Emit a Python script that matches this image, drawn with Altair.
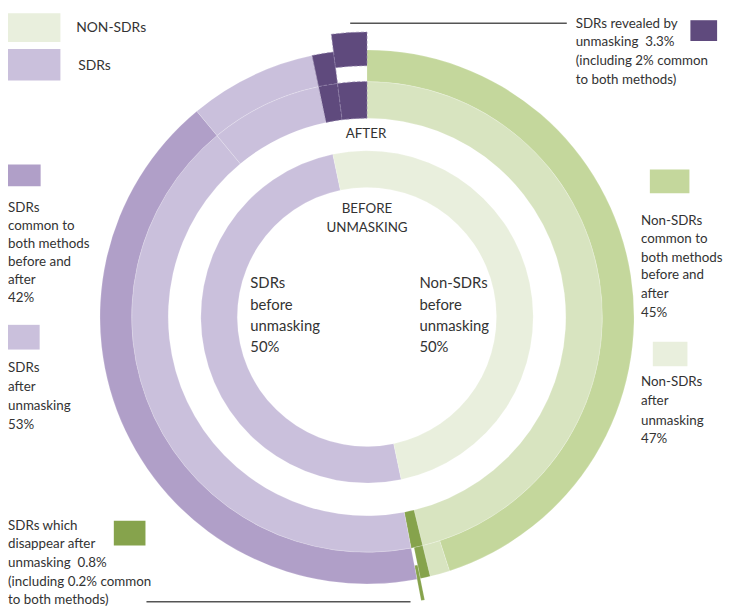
import math
import altair as alt
import pandas as pd

# ---- values (percent of all regions) ----
before_nonsdr = 50
before_sdr = 50
after_nonsdr = 47
after_sdr = 53
revealed = 3.3          # SDRs revealed by unmasking
revealed_common = 2     # of which common to both methods
disappear = 0.8         # SDRs which disappear after unmasking
disappear_common = 0.2  # of which common to both methods
common_nonsdr = 45
common_sdr = 42

# ---- colours ----
C_GREEN_LIGHT = "#e9efdd"
C_GREEN_MID = "#d8e4c0"
C_GREEN_COMMON = "#c4d79c"
C_GREEN_DARK = "#86a34c"
C_PURPLE_LIGHT = "#cac0dc"
C_PURPLE_COMMON = "#b09fc8"
C_PURPLE_DARK = "#5f4a7d"

# ring radii (px) – layout only
R_INNER = (131, 168)
R_MIDDLE = (201, 238)
R_OUTER = (238, 270)
R_EXPLODE = (254, 288)
R_EXPLODE_G = (256, 292)

segs = []
def seg(a, b, ring, color, dark=False):
    segs.append({"start": a, "end": b, "r0": ring[0], "r1": ring[1],
                 "color": color, "dark": dark})

# inner ring: before unmasking
inner_sdr_start = 50 - revealed
seg(inner_sdr_start, inner_sdr_start + before_sdr, R_INNER, C_PURPLE_LIGHT)
seg(inner_sdr_start + before_sdr, inner_sdr_start + before_sdr + before_nonsdr, R_INNER, C_GREEN_LIGHT)

# middle ring: after unmasking
seg(0, after_nonsdr - disappear, R_MIDDLE, C_GREEN_MID)
seg(after_nonsdr - disappear, after_nonsdr, R_MIDDLE, C_GREEN_DARK)
seg(after_nonsdr, after_nonsdr + common_sdr, R_MIDDLE, C_PURPLE_LIGHT)
seg(after_nonsdr + common_sdr, 100 - revealed, R_MIDDLE, C_PURPLE_LIGHT)
seg(100 - revealed, 100 - revealed_common, R_MIDDLE, C_PURPLE_DARK, True)
seg(100 - revealed_common, 100, R_MIDDLE, C_PURPLE_DARK, True)

# outer ring: common to both methods
seg(0, common_nonsdr, R_OUTER, C_GREEN_COMMON)
seg(common_nonsdr, after_nonsdr - disappear, R_OUTER, C_GREEN_MID)
seg(after_nonsdr - disappear, after_nonsdr - disappear_common, R_OUTER, C_GREEN_DARK)
seg(after_nonsdr - disappear_common, after_nonsdr, R_EXPLODE_G, C_GREEN_DARK)
seg(after_nonsdr, after_nonsdr + common_sdr, R_OUTER, C_PURPLE_COMMON)
seg(after_nonsdr + common_sdr, 100 - revealed, R_OUTER, C_PURPLE_LIGHT)
seg(100 - revealed, 100 - revealed_common, R_OUTER, C_PURPLE_DARK, True)
seg(100 - revealed_common, 100, R_EXPLODE, C_PURPLE_DARK, True)

arcs_df = pd.DataFrame(segs)

CX, CY = 363, 309

def arc_layer(df, **style):
    return alt.Chart(df).mark_arc(**style).encode(
        theta=alt.Theta("start:Q", stack=False,
                        scale=alt.Scale(domain=[0, 100], range=[0, 2 * math.pi])),
        theta2="end:Q",
        radius=alt.Radius("r1:Q", scale=None),
        radius2="r0:Q",
        color=alt.Color("color:N", scale=None),
        x=alt.value(CX),
        y=alt.value(CY),
    )

arcs = arc_layer(arcs_df[~arcs_df["dark"]].drop(columns="dark"),
                 stroke="white", strokeOpacity=0.22, strokeWidth=0.8)
arcs_dark = arc_layer(arcs_df[arcs_df["dark"]].drop(columns="dark"),
                      stroke="#9486ad", strokeWidth=0.7, strokeDash=[3, 2])

# ---- legend swatches ----
swatches = pd.DataFrame([
    {"x": 0, "x2": 53, "y": 2, "y2": 31, "color": C_GREEN_LIGHT},
    {"x": 0, "x2": 53, "y": 38, "y2": 70, "color": C_PURPLE_LIGHT},
    {"x": 690, "x2": 717, "y": 9, "y2": 30, "color": C_PURPLE_DARK},
    {"x": 0, "x2": 33, "y": 155, "y2": 177, "color": C_PURPLE_COMMON},
    {"x": 0, "x2": 32, "y": 317, "y2": 342, "color": C_PURPLE_LIGHT},
    {"x": 649, "x2": 689, "y": 160, "y2": 184, "color": C_GREEN_COMMON},
    {"x": 652, "x2": 687, "y": 334, "y2": 359, "color": C_GREEN_LIGHT},
    {"x": 107, "x2": 139, "y": 515, "y2": 540, "color": C_GREEN_DARK},
])
sw = alt.Chart(swatches).mark_rect().encode(
    x=alt.X("x:Q", scale=None), x2="x2:Q",
    y=alt.Y("y:Q", scale=None), y2="y2:Q",
    color=alt.Color("color:N", scale=None),
)

lines = pd.DataFrame([
    {"x": 346, "x2": 565, "y": 12},
    {"x": 140, "x2": 407, "y": 597},
])
rules = alt.Chart(lines).mark_rule(color="#555555", strokeWidth=1.4).encode(
    x=alt.X("x:Q", scale=None), x2="x2:Q", y=alt.Y("y:Q", scale=None)
)

# ---- texts ----
NB = "\u00a0"
texts = []
def block(x, ys, lines_, size=13.5, align="left"):
    for yy, t in zip(ys, lines_):
        texts.append({"x": x, "y": yy, "t": t, "size": size, "align": align})

block(69, [17], ["NON-SDRs"], 14)
block(71, [55], ["SDRs"], 14)
block(574, [13, 31, 50, 69], ["SDRs revealed by", f"unmasking{NB}{NB}{revealed}%",
                             f"(including {revealed_common}% common", "to both methods)"], 13.5)
block(0, [199, 217, 235, 254, 272, 290],
      ["SDRs", "common to", "both methods", "before and", "after", f"{common_sdr}%"], 13.5)
block(0, [361, 380, 399, 418], ["SDRs", "after", "unmasking", f"{after_sdr}%"], 13.5)
block(640, [212, 230, 249, 267, 286, 305],
      ["Non-SDRs", "common to", "both methods", "before and", "after", f"{common_nonsdr}%"], 13.5)
block(640, [375, 394, 414, 432], ["Non-SDRs", "after", "unmasking", f"{after_nonsdr}%"], 13.5)
block(0, [520, 539, 558, 577, 595],
      ["SDRs which", "disappear after", f"unmasking{NB}{NB}{disappear}%",
       f"(including {disappear_common}% common", "to both methods)"], 13.5)
block(362, [124], ["AFTER"], 13.5, "center")
block(363, [200, 219], ["BEFORE", "UNMASKING"], 13.5, "center")
block(245, [275, 297, 318, 339], ["SDRs", "before", "unmasking", f"{before_sdr}%"], 15)
block(416, [275, 297, 318, 339], ["Non-SDRs", "before", "unmasking", f"{before_nonsdr}%"], 15)

text_df = pd.DataFrame(texts)
text_layers = []
for (size, align), g in text_df.groupby(["size", "align"]):
    text_layers.append(
        alt.Chart(g).mark_text(align=align, baseline="middle", font="Lato",
                               fontSize=float(size), color="#333333").encode(
            x=alt.X("x:Q", scale=None), y=alt.Y("y:Q", scale=None), text="t:N")
    )

chart = alt.layer(arcs, arcs_dark, sw, rules, *text_layers).properties(
    width=727, height=603, padding=0, autosize=alt.AutoSizeParams(type="none")
).configure_view(stroke=None)

chart.save("out.html", embed_options={"renderer": "svg", "actions": False})
